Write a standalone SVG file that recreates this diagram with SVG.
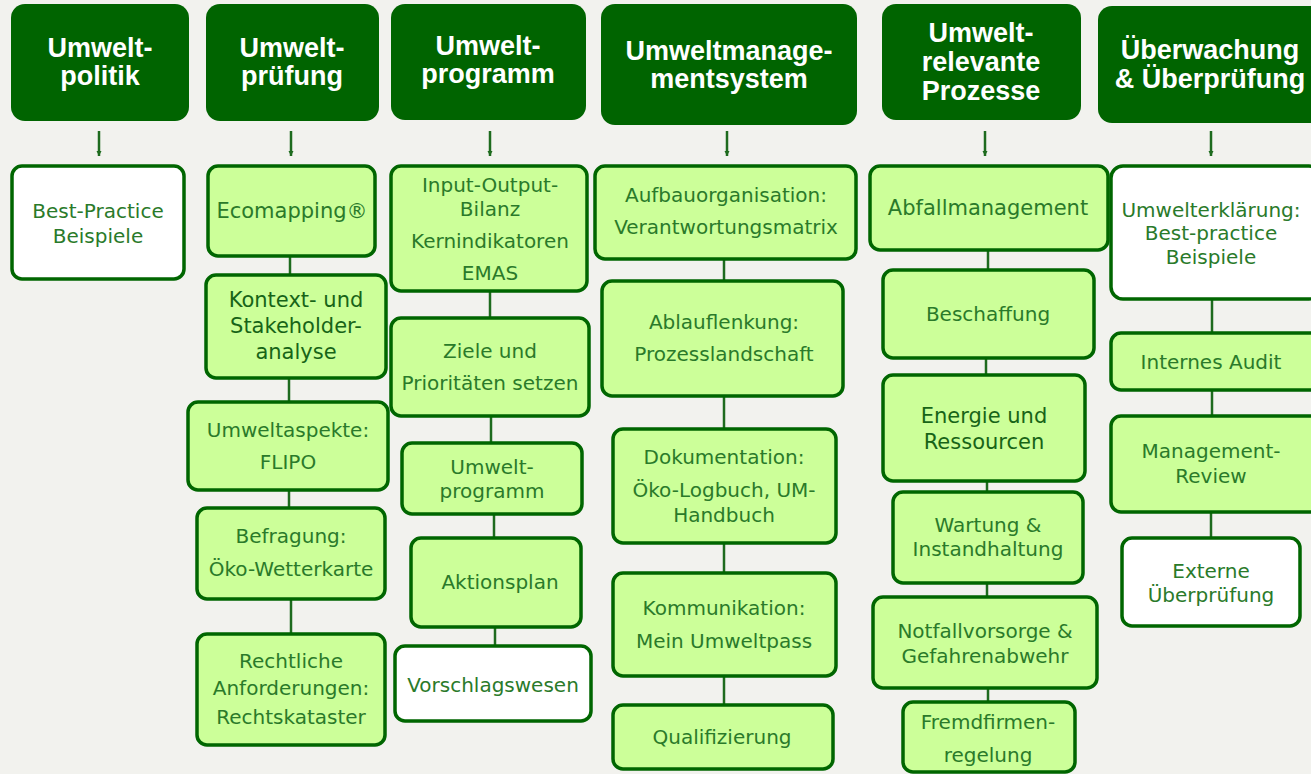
<svg xmlns="http://www.w3.org/2000/svg" width="1311" height="774" viewBox="0 0 1311 774">
<defs>
<marker id="ah" markerWidth="6" markerHeight="6" refX="5" refY="3" orient="auto" markerUnits="userSpaceOnUse">
<path d="M0,0.5 L5,3 L0,5.5 z" fill="#1e6b1e"/>
</marker>
<style>
.hd{fill:#006400}
.hdt{font-family:"Liberation Sans",Arial,sans-serif;font-weight:bold;font-size:27px;fill:#ffffff;text-anchor:middle}
.bx{fill:#ccff99;stroke:#006600;stroke-width:3.5}
.wb{fill:#ffffff;stroke:#006600;stroke-width:3.5}
.t{font-family:"DejaVu Sans",sans-serif;font-size:20px;fill:#2a7a2a;text-anchor:middle;dominant-baseline:central}
.td{fill:#176417;font-size:21px}
.tl{font-size:21px}
#connectors line{stroke:#1e6b1e;stroke-width:2.5}
#connectors .arr{marker-end:url(#ah)}
</style>
</defs>
<rect x="0" y="0" width="1311" height="774" fill="#f2f2ee"/>

<g id="connectors">
<line class="arr" x1="99" y1="131" x2="99" y2="156"/>
<line class="arr" x1="291" y1="131" x2="291" y2="156"/>
<line class="arr" x1="490" y1="131" x2="490" y2="156"/>
<line class="arr" x1="727" y1="131" x2="727" y2="156"/>
<line class="arr" x1="985" y1="131" x2="985" y2="156"/>
<line class="arr" x1="1211" y1="131" x2="1211" y2="156"/>
<line x1="290" y1="256" x2="290" y2="275"/>
<line x1="289" y1="378" x2="289" y2="402"/>
<line x1="289" y1="490" x2="289" y2="508"/>
<line x1="291" y1="599" x2="291" y2="634"/>
<line x1="490" y1="291" x2="490" y2="318"/>
<line x1="491" y1="416" x2="491" y2="443"/>
<line x1="494" y1="514" x2="494" y2="538"/>
<line x1="495" y1="627" x2="495" y2="646"/>
<line x1="724" y1="259" x2="724" y2="281"/>
<line x1="724" y1="396" x2="724" y2="429"/>
<line x1="724" y1="543" x2="724" y2="573"/>
<line x1="724" y1="676" x2="724" y2="705"/>
<line x1="988" y1="250" x2="988" y2="270"/>
<line x1="986" y1="358" x2="986" y2="375"/>
<line x1="987" y1="481" x2="987" y2="492"/>
<line x1="987" y1="583" x2="987" y2="597"/>
<line x1="988" y1="688" x2="988" y2="702"/>
<line x1="1212" y1="299" x2="1212" y2="333"/>
<line x1="1212" y1="390" x2="1212" y2="416"/>
<line x1="1211" y1="512" x2="1211" y2="538"/>
</g>

<!-- Headers -->
<g id="h-politik"><rect class="hd" x="11" y="4" width="178" height="117" rx="14"/>
<text class="hdt" x="100" y="57">Umwelt-</text><text class="hdt" x="100" y="85">politik</text></g>
<g id="h-pruefung"><rect class="hd" x="206" y="4" width="173" height="117" rx="14"/>
<text class="hdt" x="292" y="57">Umwelt-</text><text class="hdt" x="292" y="85">prüfung</text></g>
<g id="h-programm"><rect class="hd" x="391" y="4" width="195" height="116" rx="14"/>
<text class="hdt" x="488" y="55">Umwelt-</text><text class="hdt" x="488" y="83">programm</text></g>
<g id="h-ums"><rect class="hd" x="601" y="4" width="256" height="121" rx="14"/>
<text class="hdt" x="729" y="60">Umweltmanage-</text><text class="hdt" x="729" y="88">mentsystem</text></g>
<g id="h-prozesse"><rect class="hd" x="882" y="4" width="199" height="116" rx="14"/>
<text class="hdt" x="981" y="42">Umwelt-</text><text class="hdt" x="981" y="71">relevante</text><text class="hdt" x="981" y="100">Prozesse</text></g>
<g id="h-ueberwachung"><rect class="hd" x="1098" y="6" width="230" height="117" rx="14"/>
<text class="hdt" x="1210" y="59">Überwachung</text><text class="hdt" x="1210" y="88">&amp; Überprüfung</text></g>

<!-- Column 1 -->
<g id="n-bestpractice"><rect class="wb" x="12" y="166" width="172" height="113" rx="10"/>
<text class="t" x="98" y="211">Best-Practice</text><text class="t" x="98" y="236">Beispiele</text></g>

<!-- Column 2 -->
<g id="n-ecomapping"><rect class="bx" x="208" y="166" width="167" height="90" rx="10"/>
<text class="t tl" x="292" y="211">Ecomapping®</text></g>
<g id="n-kontext"><rect class="bx" x="206" y="275" width="180" height="103" rx="10"/>
<text class="t td" x="296" y="300">Kontext- und</text><text class="t td" x="296" y="326">Stakeholder-</text><text class="t td" x="296" y="352">analyse</text></g>
<g id="n-umweltaspekte"><rect class="bx" x="188" y="402" width="200" height="88" rx="10"/>
<text class="t" x="288" y="430">Umweltaspekte:</text><text class="t" x="288" y="462">FLIPO</text></g>
<g id="n-befragung"><rect class="bx" x="197" y="508" width="188" height="91" rx="10"/>
<text class="t" x="291" y="536">Befragung:</text><text class="t" x="291" y="569">Öko-Wetterkarte</text></g>
<g id="n-rechtliche"><rect class="bx" x="197" y="634" width="188" height="111" rx="10"/>
<text class="t" x="291" y="661">Rechtliche</text><text class="t" x="291" y="688">Anforderungen:</text><text class="t" x="291" y="717">Rechtskataster</text></g>

<!-- Column 3 -->
<g id="n-inputoutput"><rect class="bx" x="391" y="166" width="196" height="125" rx="10"/>
<text class="t" x="490" y="185">Input-Output-</text><text class="t" x="490" y="209">Bilanz</text><text class="t" x="490" y="241">Kernindikatoren</text><text class="t" x="490" y="273">EMAS</text></g>
<g id="n-ziele"><rect class="bx" x="391" y="318" width="198" height="98" rx="10"/>
<text class="t" x="490" y="351">Ziele und</text><text class="t" x="490" y="383">Prioritäten setzen</text></g>
<g id="n-umweltprogramm"><rect class="bx" x="402" y="443" width="180" height="71" rx="10"/>
<text class="t" x="492" y="467">Umwelt-</text><text class="t" x="492" y="491">programm</text></g>
<g id="n-aktionsplan"><rect class="bx" x="411" y="538" width="170" height="89" rx="10"/>
<text class="t" x="500" y="582">Aktionsplan</text></g>
<g id="n-vorschlagswesen"><rect class="wb" x="395" y="646" width="196" height="75" rx="10"/>
<text class="t" x="493" y="685">Vorschlagswesen</text></g>

<!-- Column 4 -->
<g id="n-aufbau"><rect class="bx" x="595" y="166" width="261" height="93" rx="10"/>
<text class="t" x="726" y="195">Aufbauorganisation:</text><text class="t" x="726" y="227">Verantwortungsmatrix</text></g>
<g id="n-ablauf"><rect class="bx" x="602" y="281" width="241" height="115" rx="10"/>
<text class="t" x="724" y="322">Ablauflenkung:</text><text class="t" x="724" y="354">Prozesslandschaft</text></g>
<g id="n-doku"><rect class="bx" x="613" y="429" width="223" height="114" rx="10"/>
<text class="t" x="724" y="457">Dokumentation:</text><text class="t" x="724" y="490">Öko-Logbuch, UM-</text><text class="t" x="724" y="515">Handbuch</text></g>
<g id="n-kommunikation"><rect class="bx" x="613" y="573" width="223" height="103" rx="10"/>
<text class="t" x="724" y="608">Kommunikation:</text><text class="t" x="724" y="641">Mein Umweltpass</text></g>
<g id="n-qualifizierung"><rect class="bx" x="613" y="705" width="220" height="64" rx="10"/>
<text class="t" x="722" y="737">Qualifizierung</text></g>

<!-- Column 5 -->
<g id="n-abfall"><rect class="bx" x="870" y="166" width="238" height="84" rx="10"/>
<text class="t tl" x="988" y="208">Abfallmanagement</text></g>
<g id="n-beschaffung"><rect class="bx" x="883" y="270" width="211" height="88" rx="10"/>
<text class="t" x="988" y="314">Beschaffung</text></g>
<g id="n-energie"><rect class="bx" x="883" y="375" width="202" height="106" rx="10"/>
<text class="t td" x="984" y="416">Energie und</text><text class="t td" x="984" y="442">Ressourcen</text></g>
<g id="n-wartung"><rect class="bx" x="893" y="492" width="190" height="91" rx="10"/>
<text class="t" x="988" y="525">Wartung &amp;</text><text class="t" x="988" y="549">Instandhaltung</text></g>
<g id="n-notfall"><rect class="bx" x="873" y="597" width="224" height="91" rx="10"/>
<text class="t" x="985" y="631">Notfallvorsorge &amp;</text><text class="t" x="985" y="656">Gefahrenabwehr</text></g>
<g id="n-fremdfirmen"><rect class="bx" x="903" y="702" width="172" height="70" rx="10"/>
<text class="t" x="988" y="722">Fremdfirmen-</text><text class="t" x="988" y="755">regelung</text></g>

<!-- Column 6 -->
<g id="n-umwelterklaerung"><rect class="wb" x="1111" y="166" width="210" height="133" rx="12"/>
<text class="t" x="1211" y="210">Umwelterklärung:</text><text class="t" x="1211" y="233">Best-practice</text><text class="t" x="1211" y="257">Beispiele</text></g>
<g id="n-audit"><rect class="bx" x="1111" y="333" width="210" height="57" rx="10"/>
<text class="t" x="1211" y="362">Internes Audit</text></g>
<g id="n-review"><rect class="bx" x="1111" y="416" width="210" height="96" rx="10"/>
<text class="t" x="1211" y="451">Management-</text><text class="t" x="1211" y="476">Review</text></g>
<g id="n-extern"><rect class="wb" x="1122" y="538" width="178" height="88" rx="10"/>
<text class="t" x="1211" y="571">Externe</text><text class="t" x="1211" y="595">Überprüfung</text></g>
</svg>
